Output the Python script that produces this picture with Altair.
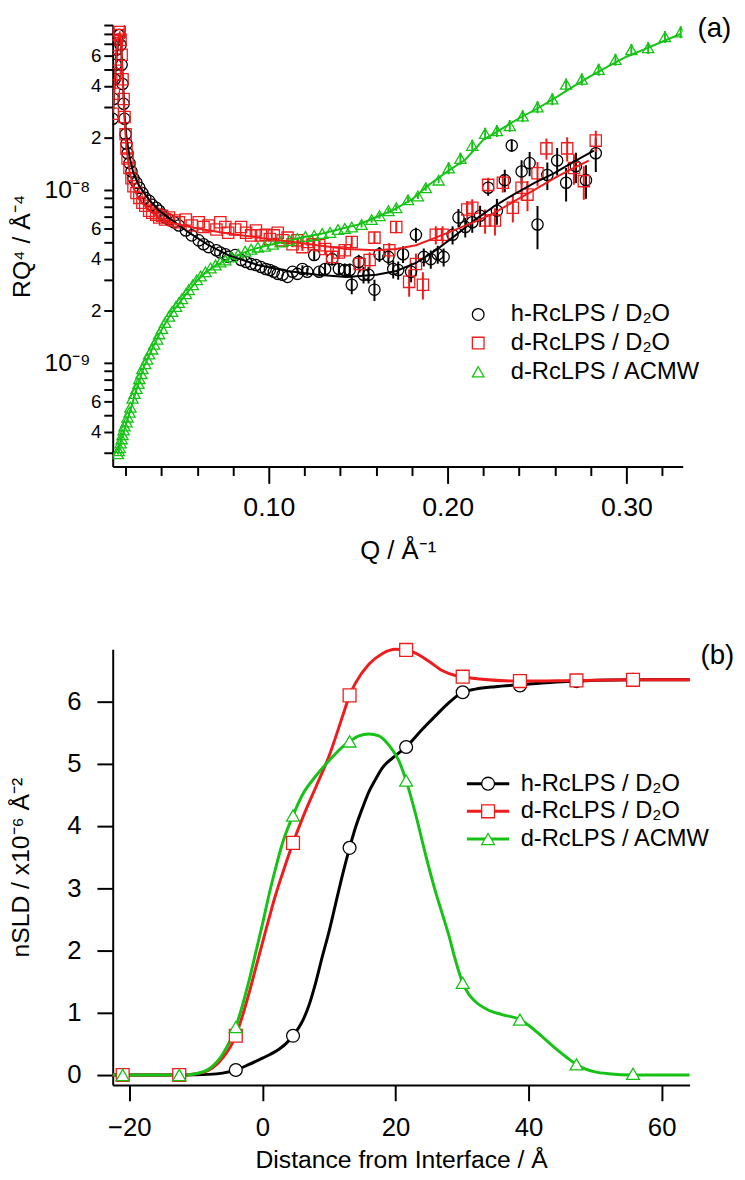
import altair as alt
import pandas as pd

FONT = "Liberation Sans"
SERIES = ["h-RcLPS / D₂O", "d-RcLPS / D₂O", "d-RcLPS / ACMW"]
LINE_KEYS = ["h-RcLPS line", "d-RcLPS line", "ACMW line"]
COLORS = ["#000000", "#ee1c1c", "#16c216"]
SHAPES = ["circle", "square", "triangle-up"]

Q_TICKS = [0.02, 0.04, 0.06, 0.08, 0.1, 0.12, 0.14, 0.16, 0.18, 0.2, 0.22, 0.24, 0.26, 0.28, 0.3, 0.32]
R_TICKS = [3e-10, 4e-10, 5e-10, 6e-10, 7e-10, 8e-10, 9e-10,
           1e-9, 2e-9, 3e-9, 4e-9, 5e-9, 6e-9, 7e-9, 8e-9, 9e-9,
           1e-8, 2e-8, 3e-8, 4e-8, 5e-8, 6e-8, 7e-8, 8e-8, 9e-8]
D_TICKS = [-20, 0, 20, 40, 60]
SLD_TICKS = [0, 1, 2, 3, 4, 5, 6]

# ---- (a) reflectivity data: h-RcLPS / D2O ----
H_Q = [0.0127, 0.0133, 0.0138, 0.0144, 0.0149, 0.0155, 0.0160, 0.0166, 0.0171, 0.0177,
       0.0182, 0.0188, 0.0193, 0.0199, 0.0204, 0.0210, 0.0221, 0.0232, 0.0243, 0.0260,
       0.0276, 0.0293, 0.0309, 0.0331, 0.0348, 0.0370, 0.0387, 0.0403, 0.0420, 0.0442,
       0.0470, 0.0497, 0.0536, 0.0569, 0.0608, 0.0635, 0.0663, 0.0707, 0.0729, 0.0757,
       0.0773, 0.0812, 0.0845, 0.0873, 0.0901, 0.0928, 0.0956, 0.0983, 0.1006, 0.1028,
       0.1050, 0.1077, 0.1105, 0.1133, 0.1160, 0.1188, 0.1215, 0.1254, 0.1282, 0.1315,
       0.1354, 0.1392, 0.1425, 0.1453, 0.1464, 0.1503, 0.1530, 0.1558, 0.1591, 0.1619,
       0.1669, 0.1696, 0.1724, 0.1751, 0.1796, 0.1823, 0.1867, 0.1906, 0.1945, 0.1978,
       0.2028, 0.2061, 0.2099, 0.2138, 0.2182, 0.2227, 0.2276, 0.2320, 0.2359, 0.2414,
       0.2459, 0.2503, 0.2558, 0.2613, 0.2663, 0.2718, 0.2774, 0.2829]
H_R = [2.58e-8, 3.36e-8, 4.37e-8, 5.3e-8, 6.48e-8, 7.39e-8, 7.89e-8, 7.89e-8, 6.9e-8, 5.3e-8,
       4.1e-8, 3.15e-8, 2.58e-8, 2.1e-8, 1.85e-8, 1.63e-8, 1.43e-8, 1.28e-8, 1.17e-8, 1.10e-8,
       1.03e-8, 9.61e-9, 9.0e-9, 8.65e-9, 8.2e-9, 7.9e-9, 7.59e-9, 7.2e-9, 6.92e-9, 6.74e-9,
       6.5e-9, 6.23e-9, 5.83e-9, 5.46e-9, 5.11e-9, 4.85e-9, 4.67e-9, 4.48e-9, 4.35e-9, 4.25e-9,
       4.1e-9, 4.2e-9, 3.93e-9, 3.83e-9, 3.73e-9, 3.68e-9, 3.58e-9, 3.49e-9, 3.44e-9, 3.36e-9,
       3.27e-9, 3.23e-9, 3.14e-9, 3.36e-9, 3.27e-9, 3.49e-9, 3.36e-9, 4.2e-9, 3.36e-9, 3.49e-9,
       3.98e-9, 3.49e-9, 3.44e-9, 3.44e-9, 2.83e-9, 3.83e-9, 3.23e-9, 3.23e-9, 2.65e-9, 4.25e-9,
       4.1e-9, 3.49e-9, 3.44e-9, 4.25e-9, 3.36e-9, 5.5e-9, 4.1e-9, 3.98e-9, 4.25e-9, 4.1e-9,
       5.5e-9, 6.92e-9, 6.1e-9, 6.5e-9, 7.1e-9, 1.03e-8, 7.59e-9, 1.14e-8, 1.81e-8, 1.28e-8,
       1.43e-8, 6.31e-9, 1.22e-8, 1.48e-8, 1.10e-8, 1.37e-8, 1.14e-8, 1.63e-8]
H_E = [0, 0, 0, 0, 0, 0, 0, 0, 0, 0, 0, 0, 0, 0, 0, 0, 0, 0, 0, 0,
       0, 0, 0, 0, 0, 0, 0, 0, 0, 0, 0, 0, 0, 0, 0, 0, 0, 0, 0, 0,
       0, 0, 0, 0, 0, 0, 0, 0, 0, 0, 0, 0, 0, 0, 0,
       0.05, 0.05, 0.07, 0.06, 0.07, 0.08, 0.08, 0.09, 0.09, 0.12, 0.10, 0.11, 0.11, 0.14, 0.10,
       0.10, 0.12, 0.12, 0.11, 0.13, 0.10, 0.12, 0.12, 0.12, 0.12, 0.12, 0.12, 0.13, 0.13, 0.14,
       0.10, 0.17, 0.15, 0.08, 0.16, 0.16, 0.28, 0.18, 0.18, 0.22, 0.20, 0.22, 0.22]

# ---- d-RcLPS / D2O ----
D_Q = [0.0127, 0.0133, 0.0138, 0.0144, 0.0149, 0.0155, 0.0160, 0.0166, 0.0171, 0.0177,
       0.0182, 0.0188, 0.0193, 0.0199, 0.0204, 0.0210, 0.0221, 0.0232, 0.0243, 0.0260,
       0.0276, 0.0293, 0.0309, 0.0331, 0.0348, 0.0370, 0.0387, 0.0403, 0.0420, 0.0442,
       0.0470, 0.0497, 0.0536, 0.0569, 0.0608, 0.0635, 0.0663, 0.0707, 0.0729, 0.0757,
       0.0773, 0.0812, 0.0845, 0.0873, 0.0901, 0.0928, 0.0956, 0.0983, 0.1006, 0.1028,
       0.1050, 0.1077, 0.1105, 0.1133, 0.1160, 0.1188, 0.1215, 0.1254, 0.1282, 0.1315,
       0.1354, 0.1392, 0.1425, 0.1464, 0.1508, 0.1564, 0.1591, 0.1674, 0.1713, 0.1785,
       0.1823, 0.1862, 0.1934, 0.1972, 0.2110, 0.2138, 0.2210, 0.2227, 0.2265, 0.2309,
       0.2365, 0.2414, 0.2447, 0.2503, 0.2553, 0.2669, 0.2707, 0.2762, 0.2829]
D_R = [2.76e-8, 3.6e-8, 4.67e-8, 5.68e-8, 6.9e-8, 7.89e-8, 8.43e-8, 8.2e-8, 7.39e-8, 6.06e-8,
       4.37e-8, 3.36e-8, 2.64e-8, 2.1e-8, 1.74e-8, 1.52e-8, 1.34e-8, 1.17e-8, 1.05e-8, 9.61e-9,
       9.0e-9, 8.43e-9, 8.1e-9, 7.59e-9, 7.39e-9, 7.2e-9, 6.92e-9, 7.1e-9, 6.74e-9, 6.92e-9,
       6.65e-9, 6.5e-9, 6.74e-9, 6.23e-9, 6.5e-9, 6.1e-9, 6.23e-9, 5.9e-9, 6.5e-9, 6.1e-9,
       5.65e-9, 5.9e-9, 6.1e-9, 5.65e-9, 5.46e-9, 5.83e-9, 5.46e-9, 5.5e-9, 5.2e-9, 5.46e-9,
       5.65e-9, 5.11e-9, 5.3e-9, 4.85e-9, 5.11e-9, 4.67e-9, 5.0e-9, 4.85e-9, 4.79e-9, 4.55e-9,
       4.1e-9, 4.35e-9, 4.48e-9, 5.0e-9, 3.73e-9, 3.93e-9, 5.3e-9, 4.48e-9, 6.1e-9, 2.94e-9,
       3.73e-9, 2.83e-9, 5.5e-9, 5.5e-9, 7.7e-9, 7.9e-9, 6.65e-9, 1.07e-8, 6.65e-9, 1.10e-8,
       7.9e-9, 1.03e-8, 9.4e-9, 1.25e-8, 1.74e-8, 1.74e-8, 1.34e-8, 1.125e-8, 1.93e-8]
D_E = [0, 0, 0, 0, 0, 0, 0, 0, 0, 0, 0, 0, 0, 0, 0, 0, 0, 0, 0, 0,
       0, 0, 0, 0, 0, 0, 0, 0, 0, 0, 0, 0, 0, 0, 0, 0, 0, 0, 0, 0,
       0, 0, 0, 0, 0, 0, 0, 0, 0, 0, 0, 0, 0,
       0.04, 0.04, 0.05, 0.05, 0.06, 0.06, 0.07, 0.08, 0.08, 0.08, 0.08, 0.11, 0.11, 0.08, 0.10,
       0.08, 0.18, 0.15, 0.18, 0.12, 0.12, 0.12, 0.12, 0.16, 0.10, 0.18, 0.12, 0.18, 0.16, 0.20,
       0.16, 0.14, 0.16, 0.20, 0.22, 0.14]

# ---- d-RcLPS / ACMW ----
G_Q = [0.0155, 0.0160, 0.0166, 0.0171, 0.0177, 0.0182, 0.0188, 0.0193, 0.0204, 0.0210,
       0.0221, 0.0226, 0.0238, 0.0249, 0.0260, 0.0271, 0.0276, 0.0287, 0.0293, 0.0309,
       0.0320, 0.0331, 0.0348, 0.0359, 0.0376, 0.0387, 0.0403, 0.0420, 0.0442, 0.0459,
       0.0481, 0.0497, 0.0514, 0.0536, 0.0552, 0.0575, 0.0597, 0.0619, 0.0646, 0.0674,
       0.0702, 0.0729, 0.0757, 0.0790, 0.0829, 0.0868, 0.0901, 0.0939, 0.0978, 0.1022,
       0.1066, 0.1116, 0.1160, 0.1205, 0.1254, 0.1299, 0.1343, 0.1387, 0.1425, 0.1464,
       0.1519, 0.1575, 0.1619, 0.1669, 0.1713, 0.1779, 0.1834, 0.1878, 0.1950, 0.2006,
       0.2072, 0.2138, 0.2210, 0.2276, 0.2348, 0.2420, 0.2503, 0.2586, 0.2663, 0.2751,
       0.2845, 0.2939, 0.3028, 0.3122, 0.3216, 0.3304]
G_R = [2.98e-10, 3.1e-10, 3.23e-10, 3.44e-10, 3.63e-10, 3.83e-10, 4.09e-10, 4.31e-10, 4.54e-10, 4.85e-10,
       5.18e-10, 5.53e-10, 6.23e-10, 6.65e-10, 7.1e-10, 7.59e-10, 8.1e-10, 8.65e-10, 9.24e-10, 9.87e-10,
       1.05e-9, 1.125e-9, 1.2e-9, 1.28e-9, 1.37e-9, 1.47e-9, 1.58e-9, 1.71e-9, 1.86e-9, 1.98e-9,
       2.12e-9, 2.23e-9, 2.35e-9, 2.51e-9, 2.65e-9, 2.83e-9, 3.02e-9, 3.18e-9, 3.36e-9, 3.54e-9,
       3.68e-9, 3.83e-9, 3.93e-9, 4.1e-9, 4.25e-9, 4.42e-9, 4.54e-9, 4.67e-9, 4.72e-9, 4.85e-9,
       5.0e-9, 5.11e-9, 5.25e-9, 5.38e-9, 5.46e-9, 5.6e-9, 5.68e-9, 5.9e-9, 5.99e-9, 6.1e-9,
       6.31e-9, 6.74e-9, 7.1e-9, 7.59e-9, 7.9e-9, 8.77e-9, 9.24e-9, 1.03e-8, 1.14e-8, 1.34e-8,
       1.52e-8, 1.81e-8, 2.12e-8, 2.2e-8, 2.35e-8, 2.68e-8, 3.02e-8, 3.36e-8, 4.09e-8, 4.37e-8,
       4.98e-8, 5.68e-8, 6.48e-8, 6.65e-8, 7.69e-8, 8.2e-8]
G_E = [0, 0, 0, 0, 0, 0, 0, 0, 0, 0, 0, 0, 0, 0, 0, 0, 0, 0, 0, 0,
       0, 0, 0, 0, 0, 0, 0, 0, 0, 0, 0, 0, 0, 0, 0, 0, 0, 0, 0, 0,
       0, 0, 0, 0, 0, 0, 0, 0, 0, 0, 0, 0, 0, 0, 0, 0, 0, 0, 0, 0,
       0.04, 0.04, 0.04, 0.04, 0.04, 0.04, 0.04, 0.04, 0.04,
       0.08, 0.08, 0.08, 0.08, 0.08, 0.08, 0.08, 0.08, 0.08, 0.08,
       0.08, 0.08, 0.08, 0.08, 0.08, 0.08, 0.08]

# ---- (a) model fits ----
H_FIT_Q = [0.0127, 0.0138, 0.0149, 0.0160, 0.0166, 0.0171, 0.0177, 0.0182, 0.0188, 0.0193,
           0.0204, 0.0221, 0.0243, 0.0276, 0.0331, 0.0387, 0.0470, 0.0552, 0.0663, 0.0773,
           0.0939, 0.1105, 0.1271, 0.1436, 0.1602, 0.1713, 0.1823, 0.1934, 0.2044, 0.2155,
           0.2265, 0.2376, 0.2486, 0.2597, 0.2707, 0.2818]
H_FIT_R = [2.64e-8, 4.1e-8, 6.06e-8, 7.39e-8, 7.6e-8, 7.1e-8, 6.06e-8, 4.67e-8, 3.6e-8, 2.76e-8,
           2.03e-8, 1.56e-8, 1.25e-8, 1.05e-8, 8.77e-9, 7.59e-9, 6.56e-9, 5.68e-9, 4.79e-9, 4.2e-9,
           3.68e-9, 3.4e-9, 3.23e-9, 3.14e-9, 3.23e-9, 3.4e-9, 3.78e-9, 4.48e-9, 5.46e-9, 6.74e-9,
           8.1e-9, 9.5e-9, 1.10e-8, 1.25e-8, 1.46e-8, 1.69e-8]
D_FIT_Q = [0.0127, 0.0138, 0.0149, 0.0160, 0.0166, 0.0171, 0.0177, 0.0182, 0.0188, 0.0193,
           0.0204, 0.0221, 0.0243, 0.0276, 0.0331, 0.0387, 0.0470, 0.0608, 0.0773, 0.0939,
           0.1105, 0.1271, 0.1436, 0.1602, 0.1713, 0.1823, 0.1934, 0.2044, 0.2155, 0.2265,
           0.2376, 0.2486, 0.2597, 0.2707, 0.2790]
D_FIT_R = [2.76e-8, 4.25e-8, 6.3e-8, 7.89e-8, 8.1e-8, 7.39e-8, 6.06e-8, 4.49e-8, 3.36e-8, 2.58e-8,
           1.74e-8, 1.28e-8, 1.03e-8, 8.77e-9, 7.59e-9, 6.92e-9, 6.4e-9, 5.97e-9, 5.6e-9, 5.3e-9,
           5.05e-9, 4.79e-9, 4.55e-9, 4.48e-9, 4.55e-9, 4.79e-9, 5.3e-9, 5.9e-9, 6.56e-9, 7.39e-9,
           8.65e-9, 1.0e-8, 1.17e-8, 1.34e-8, 1.48e-8]
G_FIT_Q = [0.0155, 0.018, 0.022, 0.026, 0.030, 0.035, 0.040, 0.045, 0.050, 0.055,
           0.060, 0.065, 0.070, 0.080, 0.090, 0.100, 0.110, 0.120, 0.130, 0.140,
           0.150, 0.160, 0.170, 0.180, 0.190, 0.200, 0.210, 0.220, 0.230, 0.240,
           0.250, 0.260, 0.270, 0.280, 0.290, 0.300, 0.310, 0.320, 0.3304]
G_FIT_R = [2.95e-10, 3.75e-10, 5.1e-10, 7.0e-10, 9.4e-10, 1.22e-9, 1.55e-9, 1.9e-9, 2.22e-9, 2.6e-9,
           3.0e-9, 3.35e-9, 3.65e-9, 4.1e-9, 4.5e-9, 4.8e-9, 5.05e-9, 5.35e-9, 5.6e-9, 5.95e-9,
           6.3e-9, 6.95e-9, 7.7e-9, 8.8e-9, 1.08e-8, 1.28e-8, 1.5e-8, 1.95e-8, 2.25e-8, 2.6e-8,
           2.95e-8, 3.4e-8, 3.95e-8, 4.55e-8, 5.2e-8, 5.9e-8, 6.5e-8, 7.2e-8, 8.0e-8]

# ---- (b) SLD profiles ----
D_MARK = [-21.0, -12.5, -4.0, 4.6, 13.1, 21.6, 30.1, 38.7, 47.2, 55.7]
H_SLD_MARK = [0.0, 0.0, 0.08, 0.63, 3.65, 5.27, 6.15, 6.26, 6.33, 6.35]
D_SLD_MARK = [0.0, 0.0, 0.63, 3.73, 6.10, 6.83, 6.40, 6.33, 6.34, 6.35]
A_SLD_MARK = [0.0, 0.0, 0.77, 4.17, 5.36, 4.73, 1.48, 0.89, 0.17, 0.02]

H_LINE_D = [-22.5, -12, -8, -6, -4, -2, 0, 2, 3.5, 4.6, 6, 7, 8, 9, 10, 11, 12, 13.1, 14, 15,
            16, 17, 18, 20, 21.6, 24, 26, 28, 30.1, 32, 35, 38.7, 45, 55.7, 64.2]
H_LINE_S = [0, 0, 0.01, 0.03, 0.08, 0.17, 0.27, 0.38, 0.5, 0.63, 0.86, 1.12, 1.48, 1.9, 2.3, 2.75, 3.2, 3.65, 3.98, 4.28,
            4.55, 4.75, 4.93, 5.13, 5.27, 5.55, 5.77, 5.98, 6.15, 6.2, 6.24, 6.27, 6.32, 6.35, 6.35]
D_LINE_D = [-22.5, -12, -10, -8, -6, -4, -3, -2, -1, 0, 1, 2, 3, 4.6, 6, 8, 10, 12, 13.1, 14,
            16, 18, 20, 21.6, 23, 25, 27, 29, 30.1, 33, 38.7, 47.2, 55.7, 64.2]
D_LINE_S = [0, 0, 0.02, 0.08, 0.27, 0.63, 0.95, 1.32, 1.72, 2.12, 2.52, 2.9, 3.23, 3.73, 4.12, 4.62, 5.12, 5.75, 6.1, 6.3,
            6.6, 6.77, 6.84, 6.83, 6.78, 6.65, 6.5, 6.42, 6.4, 6.36, 6.33, 6.34, 6.35, 6.35]
A_LINE_D = [-22.5, -12, -10, -8, -6, -4, -3, -2, -1, 0, 1, 2, 3, 4.6, 6, 8, 10, 12, 13.1, 14.5,
            16, 17.5, 19, 20.5, 21.6, 23, 24.5, 26, 27, 28, 29, 30.1, 31, 32, 34, 36, 38.7, 40,
            42, 44, 46, 47.2, 48.5, 50, 52, 55.7, 64.2]
A_LINE_S = [0, 0, 0.02, 0.1, 0.33, 0.77, 1.12, 1.52, 1.97, 2.42, 2.9, 3.33, 3.72, 4.17, 4.5, 4.8, 5.05, 5.27, 5.36, 5.45,
            5.48, 5.45, 5.3, 5.05, 4.73, 4.2, 3.55, 2.95, 2.6, 2.25, 1.85, 1.48, 1.3, 1.18, 1.04, 0.97, 0.89, 0.8,
            0.62, 0.43, 0.26, 0.17, 0.1, 0.05, 0.02, 0.0, 0.0]

# ---------------- build tables ----------------
def refl_frame(q, r, e, name):
    return pd.DataFrame({"Q": q, "R": r,
                         "lo": [a * (1 - b) for a, b in zip(r, e)],
                         "hi": [a * (1 + b) for a, b in zip(r, e)],
                         "series": name})

refl = [refl_frame(H_Q, H_R, H_E, SERIES[0]),
        refl_frame(D_Q, D_R, D_E, SERIES[1]),
        refl_frame(G_Q, G_R, G_E, SERIES[2])]
pts_top = pd.concat(refl, ignore_index=True)
fits = [pd.DataFrame({"Q": H_FIT_Q, "R": H_FIT_R}),
        pd.DataFrame({"Q": D_FIT_Q, "R": D_FIT_R}),
        pd.DataFrame({"Q": G_FIT_Q, "R": G_FIT_R})]

marks_bot = pd.concat([
    pd.DataFrame({"d": D_MARK, "sld": H_SLD_MARK, "series": SERIES[0]}),
    pd.DataFrame({"d": D_MARK, "sld": D_SLD_MARK, "series": SERIES[1]}),
    pd.DataFrame({"d": D_MARK, "sld": A_SLD_MARK, "series": SERIES[2]}),
], ignore_index=True)
lines_bot = pd.concat([
    pd.DataFrame({"d": H_LINE_D, "sld": H_LINE_S, "series_l": LINE_KEYS[0]}),
    pd.DataFrame({"d": D_LINE_D, "sld": D_LINE_S, "series_l": LINE_KEYS[1]}),
    pd.DataFrame({"d": A_LINE_D, "sld": A_LINE_S, "series_l": LINE_KEYS[2]}),
], ignore_index=True)

# ---------------- panel (a) ----------------
is_major_x = "abs(datum.value*10 - round(datum.value*10)) < 0.001"
is_dec = "abs(log(datum.value)/LN10 - round(log(datum.value)/LN10)) < 0.001"
mant = "round(datum.value / pow(10, floor(log(datum.value)/LN10 + 0.001)))"

x_axis_top = alt.Axis(values=Q_TICKS, labelExpr=f"{is_major_x} ? format(datum.value, '.2f') : ''",
                      tickSize={"condition": {"test": f"!({is_major_x})", "value": 9}, "value": 17},
                      labelPadding=12, labelFontSize=27, title="Q / Å⁻¹", titlePadding=17,
                      titleFontSize=26)
y_axis_top = alt.Axis(values=R_TICKS,
                      labelExpr=f"{is_dec} ? (round(log(datum.value)/LN10) == -8 ? '10⁻⁸' : '10⁻⁹') : "
                                f"(indexof([2,4,6], {mant}) >= 0 ? '' + {mant} : '')",
                      labelFontSize={"condition": {"test": is_dec, "value": 25}, "value": 19},
                      labelPadding={"condition": {"test": is_dec, "value": 14}, "value": 3},
                      tickSize=9, title="RQ⁴ / Å⁻⁴", titlePadding=10)
xs_top = alt.Scale(domain=[0.0127, 0.3315], nice=False, zero=False)
ys_top = alt.Scale(type="log", domain=[2.51e-10, 9.0e-8], nice=False)

leg_top = alt.Legend(orient="none", legendX=358, legendY=281, title=None, labelFontSize=24,
                     symbolSize=140, symbolStrokeWidth=1.3, labelOffset=21, rowPadding=5,
                     padding=0, labelLimit=400, labelColor="black", symbolOpacity=1)

top_layers = []
for df, c in zip(refl, COLORS):
    top_layers.append(
        alt.Chart(df[df["hi"] > df["lo"]]).mark_rule(color=c, strokeWidth=2, clip=True).encode(
            x=alt.X("Q:Q", scale=xs_top, axis=x_axis_top),
            y=alt.Y("lo:Q", scale=ys_top, axis=y_axis_top),
            y2="hi:Q"))
top_layers.append(
    alt.Chart(pts_top).mark_point(filled=False, size=130, strokeWidth=1.3, opacity=1, clip=True).encode(
        x=alt.X("Q:Q", scale=xs_top, axis=x_axis_top),
        y=alt.Y("R:Q", scale=ys_top, axis=y_axis_top),
        stroke=alt.Stroke("series:N", scale=alt.Scale(domain=SERIES, range=COLORS), legend=leg_top),
        shape=alt.Shape("series:N", scale=alt.Scale(domain=SERIES, range=SHAPES), legend=leg_top)))
for i in [2, 0, 1]:
    top_layers.append(
        alt.Chart(fits[i]).mark_line(color=COLORS[i], strokeWidth=2, clip=True).encode(
            x=alt.X("Q:Q", scale=xs_top, axis=x_axis_top),
            y=alt.Y("R:Q", scale=ys_top, axis=y_axis_top)))
top_layers.append(
    alt.Chart(pd.DataFrame({"t": ["(a)"]})).mark_text(
        align="left", baseline="middle", fontSize=28, font=FONT, color="black").encode(
        text="t:N", x=alt.value(592), y=alt.value(4)))
top = alt.layer(*top_layers).properties(width=577, height=447)

# ---------------- panel (b) ----------------
xs_bot = alt.Scale(domain=[-22.5, 64.2], nice=False, zero=False)
ys_bot = alt.Scale(domain=[-0.16, 6.84], nice=False, zero=False)
x_axis_bot = alt.Axis(values=D_TICKS, tickSize=16, labelPadding=14, format="d", labelFontSize=26,
                      title="Distance from Interface / Å", titlePadding=8)
y_axis_bot = alt.Axis(values=SLD_TICKS, tickSize=16, labelPadding=16, labelFontSize=26,
                      title="nSLD / x10⁻⁶ Å⁻²", titlePadding=34)

leg_line = alt.Legend(orient="none", legendX=368, legendY=124, title=None, labelFontSize=24,
                      symbolType="M-3.3,0H3.3", symbolSize=169, symbolStrokeWidth=3,
                      labelOffset=21, rowPadding=4, padding=0, labelExpr="''",
                      symbolOpacity=1)
leg_pts = alt.Legend(orient="none", legendX=368, legendY=124, title=None, labelFontSize=24,
                     symbolSize=169, symbolStrokeWidth=1.3, symbolFillColor="white",
                     labelOffset=21, rowPadding=4, padding=0, labelLimit=400, labelColor="black",
                     symbolOpacity=1)

bot_lines = alt.Chart(lines_bot).mark_line(strokeWidth=3, interpolate="monotone").encode(
    x=alt.X("d:Q", scale=xs_bot, axis=x_axis_bot),
    y=alt.Y("sld:Q", scale=ys_bot, axis=y_axis_bot),
    color=alt.Color("series_l:N", scale=alt.Scale(domain=LINE_KEYS, range=COLORS), legend=leg_line))
bot_pts = alt.Chart(marks_bot).mark_point(filled=True, fill="white", size=170, strokeWidth=1.3,
                                          opacity=1).encode(
    x=alt.X("d:Q", scale=xs_bot, axis=x_axis_bot),
    y=alt.Y("sld:Q", scale=ys_bot, axis=y_axis_bot),
    stroke=alt.Stroke("series:N", scale=alt.Scale(domain=SERIES, range=COLORS), legend=leg_pts),
    shape=alt.Shape("series:N", scale=alt.Scale(domain=SERIES, range=SHAPES), legend=leg_pts))
bot_text = alt.Chart(pd.DataFrame({"t": ["(b)"]})).mark_text(
    align="left", baseline="middle", fontSize=28, font=FONT, color="black").encode(
    text="t:N", x=alt.value(595), y=alt.value(7))
bottom = alt.layer(bot_lines, bot_pts, bot_text).properties(width=584, height=441)

chart = alt.concat(top, bottom, columns=1, spacing=78, align="none").resolve_scale(
    color="independent", stroke="independent", shape="independent"
).resolve_legend(
    color="independent", stroke="independent", shape="independent"
).properties(
    padding={"left": 0, "top": 0, "right": 2, "bottom": 0}
).configure_view(stroke=None).configure_axis(
    domainColor="black", domainWidth=2, tickColor="black", tickWidth=2,
    labelColor="black", titleColor="black", labelFont=FONT, titleFont=FONT,
    labelFontSize=25, titleFontSize=25, titleFontWeight="normal", grid=False,
    labelOverlap=False, labelFlush=False
).configure_legend(labelFont=FONT)

chart.save("out.html", embed_options={"renderer": "svg", "actions": False})
